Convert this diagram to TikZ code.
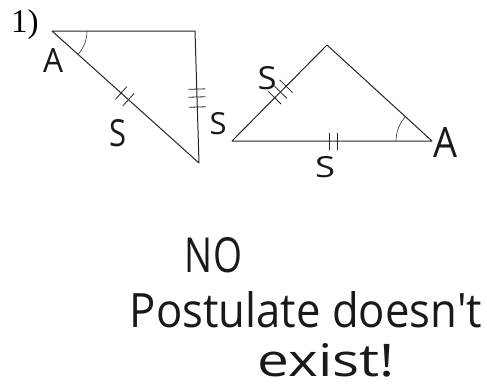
\documentclass[tikz,border=0pt]{standalone}
\usepackage{fontspec}
\setmainfont{Liberation Serif}
\newfontfamily\handfont{Open Sans}
\usetikzlibrary{calc,angles}
\newcommand{\hw}[3]{\resizebox{#1pt}{#2pt}{\handfont #3}}
\tikzset{
  edge/.style={line width=1pt, draw=black!85},
  tick/.style={line width=0.8pt, draw=black!85},
  hand/.style={inner sep=0pt, outer sep=0pt, text=black!90},
  angmark/.style={draw=black!80, line width=0.6pt},
}
\begin{document}
\begin{tikzpicture}[x=1pt,y=-1pt]
\useasboundingbox (0,0) rectangle (487,383);
\fill[white] (0,0) rectangle (487,383);

% label
\node[anchor=base west, inner sep=0pt, font=\fontsize{33}{33}\selectfont] (num) at (11,32) {1)};

% triangle 1
\coordinate (Ta) at (52,31);
\coordinate (Tb) at (195,31);
\coordinate (Tc) at (199,163);
\draw[edge, line join=round] (Ta) -- (Tb) -- (Tc) -- cycle;
\pic[angmark, angle radius=35pt] {angle = Tc--Ta--Tb};
% hypotenuse ticks
\foreach \t in {0.47,0.52}{
  \draw[tick] ($($(Ta)!\t!(Tc)$)!8.5pt!90:(Tc)$) -- ($($(Ta)!\t!(Tc)$)!8.5pt!-90:(Tc)$);
}
% vertical side ticks
\foreach \t in {0.44,0.50,0.576}{
  \draw[tick] ($($(Tb)!\t!(Tc)$)!8.5pt!90:(Tc)$) -- ($($(Tb)!\t!(Tc)$)!8.5pt!-90:(Tc)$);
}

% triangle 2
\coordinate (Ul) at (232,141);
\coordinate (Up) at (327,45);
\coordinate (Ur) at (432,141);
\draw[edge, line join=round] (Ul) -- (Up) -- (Ur) -- cycle;
\pic[angmark, angle radius=36pt] {angle = Up--Ur--Ul};
\foreach \t in {0.45,0.51,0.57}{
  \draw[tick] ($($(Ul)!\t!(Up)$)!9pt!90:(Up)$) -- ($($(Ul)!\t!(Up)$)!9pt!-90:(Up)$);
}
\foreach \t in {0.485,0.525}{
  \draw[tick] ($($(Ul)!\t!(Ur)$)!8.5pt!90:(Ur)$) -- ($($(Ul)!\t!(Ur)$)!8.5pt!-90:(Ur)$);
}

% handwritten labels
\node[hand] (a1) at (53,60) {\hw{20}{24}{A}};
\node[hand] (s1) at (118,133) {\hw{17}{27}{S}};
\node[hand] (s2) at (218,124) {\hw{17}{22}{S}};
\node[hand] (s3) at (267,78) {\hw{19}{23}{S}};
\node[hand] (s4) at (325,167) {\hw{20}{21}{S}};
\node[hand] (a2) at (445,142) {\hw{24}{30}{A}};

% handwritten note
\node[hand] (no) at (213.5,255.5) {\hw{57}{35}{NO}};
\node[hand] (post) at (306,310) {\hw{352}{36}{Postulate doesn't}};
\node[hand] (exist) at (326.5,360.5) {\hw{137}{33}{exist!}};
\end{tikzpicture}
\end{document}
